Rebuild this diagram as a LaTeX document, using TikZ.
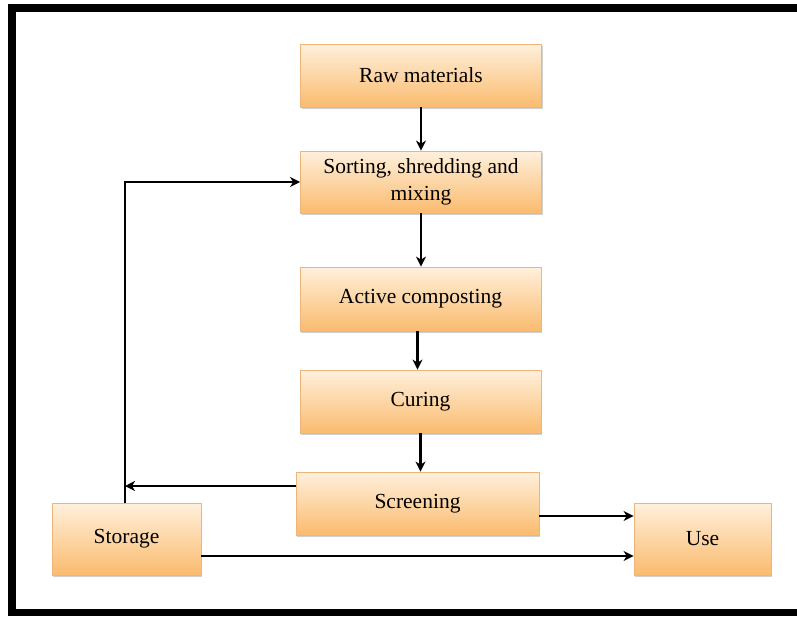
\documentclass[tikz,border=0pt]{standalone}
\usepackage{fontspec}
\setmainfont{Liberation Serif}
\usetikzlibrary{arrows.meta,shadows,calc}
\definecolor{boxtop}{HTML}{FFF0DC}
\definecolor{boxbot}{HTML}{FABB6E}
\definecolor{boxedge}{HTML}{EDB57A}
\tikzset{
  stagebox/.style={draw=boxedge, line width=0.8pt, top color=boxtop, bottom color=boxbot,
    minimum width=241pt, minimum height=63pt, inner sep=2pt, align=center,
    font=\fontsize{21.5}{27}\selectfont, text=black,
    drop shadow={shadow xshift=1pt, shadow yshift=-1.5pt, opacity=0.3, fill=black!60}},
  flow/.style={line width=2.8pt, -{Stealth[length=10pt,width=10pt,inset=3pt]}},
  plain/.style={line width=2.8pt},
  framebar/.style={fill=black, draw=none}
}
\begin{document}
\begin{tikzpicture}[x=1pt,y=-1pt]
\useasboundingbox (0,0) rectangle (797,616);
\fill[white] (0,0) rectangle (797,616);
% frame
\path[framebar] (8,4) rectangle (797,12);
\path[framebar] (8,4) rectangle (16,616);
\path[framebar] (8,609) rectangle (797,616);
% boxes
\node[stagebox] (raw) at (421,75.5) {\raisebox{-2pt}{Raw materials}};
\node[stagebox, minimum height=62pt] (sort) at (421,182) {\raisebox{-3pt}{Sorting, shredding and}\\\raisebox{-3pt}{mixing}};
\node[stagebox, minimum height=64pt] (active) at (420.5,299) {Active composting};
\node[stagebox] (cure) at (420.5,401.5) {Curing};
\node[stagebox, minimum width=243pt] (screen) at (417.5,503.5) {Screening};
\node[stagebox, minimum width=137pt, minimum height=72pt] (use) at (702.5,539) {Use};
\node[stagebox, minimum width=149pt, minimum height=72pt] (store) at (126.5,539) {\raisebox{-2pt}{Storage}};
% connectors
\draw[flow] (raw.south) -- (sort.north);
\draw[flow] (sort.south) -- (sort.south |- active.north);
\draw[flow] ([xshift=-3pt]active.south) -- ([xshift=-3pt]cure.north);
\draw[flow] (cure.south) -- (cure.south |- screen.north);
\coordinate (turn) at (125,486);
\draw[flow] ($(screen.west)+(0,-17.5)$) -- (turn);
\draw[plain] (store.north -| turn) -- (turn);
\draw[flow] (turn) |- (sort.west);
\coordinate (p1) at ($(screen.east)+(0,12.5)$);
\draw[flow] (p1) -- (p1 -| use.west);
\coordinate (p2) at ($(store.east)+(0,17)$);
\draw[flow] (p2) -- (p2 -| use.west);
\end{tikzpicture}
\end{document}
